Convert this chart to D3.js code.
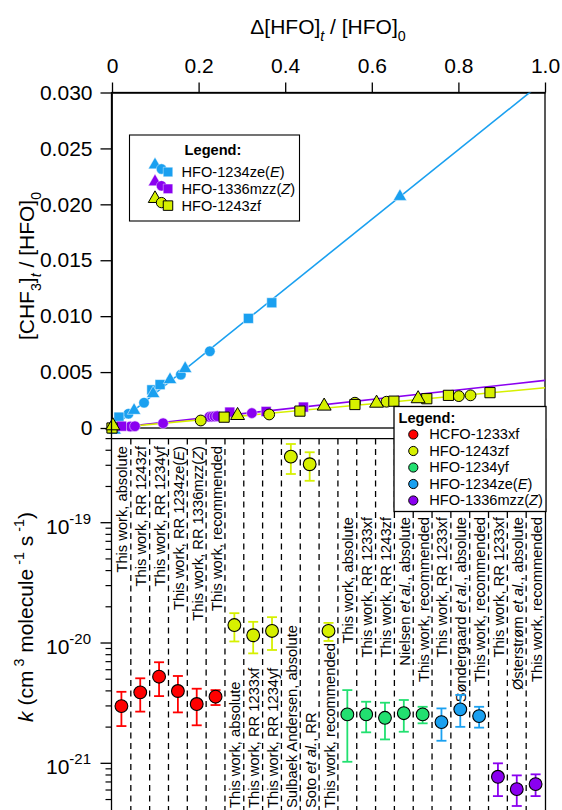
<!DOCTYPE html>
<html><head><meta charset="utf-8">
<script src="https://cdn.jsdelivr.net/npm/d3@7"></script>
<style>
body{margin:0;background:#fff}
svg{display:block}
text{font-family:"Liberation Sans",Arial,Helvetica,sans-serif;fill:#000}
</style>
</head><body>
<svg id="chart" width="562" height="810"></svg>
<script>
// ---------------- DATA ----------------
// Top panel: Δ[HFO]t/[HFO]0 vs [CHF3]t/[HFO]0
const topXTicks = [0, 0.2, 0.4, 0.6, 0.8, 1.0];
const topXTickLabels = ["0", "0.2", "0.4", "0.6", "0.8", "1.0"];
const topYTicks = [0, 0.005, 0.010, 0.015, 0.020, 0.025, 0.030];
const topYTickLabels = ["0", "0.005", "0.010", "0.015", "0.020", "0.025", "0.030"];

// HFO-1234ze(E)
const zeTriangles = [[0.006, -0.0002], [0.051, 0.00157], [0.095, 0.00307], [0.134, 0.00432], [0.169, 0.00531], [0.665, 0.0207]];
const zeCircles = [[0.038, 0.00127], [0.074, 0.00226], [0.159, 0.00477], [0.226, 0.00686]];
const zeSquares = [[0.016, 0.00097], [0.092, 0.00341], [0.111, 0.00388], [0.315, 0.0098], [0.369, 0.0112]];
// HFO-1336mzz(Z)
const mzzCircles = [[0.042, 0.00013], [0.053, 0.00016], [0.118, 0.00043], [0.225, 0.00100], [0.231, 0.00102], [0.237, 0.00104], [0.243, 0.00106], [0.323, 0.00133]];
const mzzSquares = [[0.022, 0.00016], [0.272, 0.00142], [0.356, 0.00148], [0.442, 0.00187]];
// HFO-1243zf
const zfTriangles = [[0.002, 0.0002], [0.290, 0.00112], [0.490, 0.00196], [0.611, 0.00222], [0.707, 0.00262]];
const zfCircles = [[0.205, 0.00067], [0.363, 0.00121], [0.561, 0.00226], [0.634, 0.00235], [0.801, 0.00285], [0.828, 0.00292]];
const zfSquares = [[0.0, 0.0], [0.259, 0.00097], [0.434, 0.00151], [0.561, 0.00210], [0.651, 0.0024], [0.727, 0.00262], [0.777, 0.00292], [0.873, 0.00316]];
// fitted slopes (ze, mzz, zf)
const fitSlopes = [0.0311, 0.00426, 0.0036];
const topLegendLabels = ["HFO-1234ze(<i>E</i>)", "HFO-1336mzz(<i>Z</i>)", "HFO-1243zf"];

// Bottom panel: rate coefficients k
const compounds = ["HCFO-1233xf", "HFO-1243zf", "HFO-1234yf", "HFO-1234ze(<i>E</i>)", "HFO-1336mzz(<i>Z</i>)"];
const kLabels = [
  "This work, absolute", "This work, RR 1243zf", "This work, RR 1234yf", "This work, RR 1234ze(<i>E</i>)", "This work, RR 1336mzz(<i>Z</i>)", "This work, recommended",
  "This work, absolute", "This work, RR 1233xf", "This work, RR 1234yf", "Sulbaek Andersen, absolute", "Soto <i>et al.</i>, RR", "This work, recommended",
  "This work, absolute", "This work, RR 1233xf", "This work, RR 1243zf", "Nielsen <i>et al.</i>, absolute", "This work, recommended",
  "This work, RR 1233xf", "Søndergaard <i>et al.</i>, absolute", "This work, recommended",
  "This work, RR 1233xf", "Østerstrøm <i>et al.</i>, absolute", "This work, recommended"
];
const kCompound = [0,0,0,0,0,0, 1,1,1,1,1,1, 2,2,2,2,2, 3,3,3, 4,4,4];
const kValues = [2.99e-21, 3.89e-21, 5.25e-21, 3.99e-21, 3.11e-21, 3.58e-21,
  1.41e-20, 1.16e-20, 1.26e-20, 3.54e-19, 3.06e-19, 1.26e-20,
  2.55e-21, 2.55e-21, 2.39e-21, 2.61e-21, 2.55e-21,
  2.20e-21, 2.81e-21, 2.47e-21,
  7.73e-22, 6.10e-22, 6.72e-22];
const kUpper = [3.93e-21, 5.09e-21, 6.92e-21, 5.32e-21, 4.17e-21, 4.06e-21,
  1.77e-20, 1.50e-20, 1.64e-20, 4.51e-19, 3.85e-19, 1.47e-20,
  4.06e-21, 3.25e-21, 3.19e-21, 3.36e-21, 2.95e-21,
  2.86e-21, 3.70e-21, 2.95e-21,
  1.00e-21, 7.94e-22, 8.10e-22];
const kLower = [2.04e-21, 2.69e-21, 3.62e-21, 2.65e-21, 2.07e-21, 3.05e-21,
  1.03e-20, 8.20e-21, 8.75e-21, 2.54e-19, 2.23e-19, 1.04e-20,
  1.03e-21, 1.81e-21, 1.58e-21, 1.83e-21, 2.15e-21,
  1.54e-21, 2.01e-21, 1.98e-21,
  5.34e-22, 4.42e-22, 5.34e-22];
const kMajorTicks = [1e-21, 1e-20, 1e-19];
const kMajorExponents = ["-21", "-20", "-19"];

// ---------------- STYLE ----------------
const compoundColors = ["#ff0000", "#d6f000", "#22e070", "#1aa0f0", "#8a00f0"];
const FONT = 21, LABEL_FONT = 14.7, LEG_FONT = 14.6;

// ---------------- HELPERS ----------------
function rich(sel, str, size) {
  let off = 0;
  const re = /<(i|sub|sup|subi)>(.*?)<\/\1>|([^<]+)/g;
  for (const m of str.matchAll(re)) {
    let t, tag = null;
    if (m[3] !== undefined) t = m[3]; else { tag = m[1]; t = m[2]; }
    let shift = 0, fs = size, italic = false;
    if (tag === "i") italic = true;
    if (tag === "sub" || tag === "subi") { shift = size * 0.32; fs = size * 0.68; italic = tag === "subi"; }
    if (tag === "sup") { shift = -size * 0.42; fs = size * 0.68; }
    const ts = sel.append("tspan").text(t).attr("font-size", fs);
    if (shift - off !== 0) ts.attr("dy", shift - off);
    if (italic) ts.attr("font-style", "italic");
    off = shift;
  }
}

const svg = d3.select("#chart");

// ---------------- TOP PANEL ----------------
const xT = d3.scaleLinear().domain([0, 1]).range([112, 545]);
const yT = d3.scaleLinear().domain([0, 0.030]).range([428, 92.5]);

svg.append("defs").append("clipPath").attr("id", "clipTop")
  .append("rect").attr("x", xT(0)).attr("y", yT(0.030)).attr("width", xT(1) - xT(0)).attr("height", yT(0) - yT(0.030));

const gTop = svg.append("g");
gTop.append("rect").attr("x", xT(0)).attr("y", yT(0.030)).attr("width", xT(1) - xT(0)).attr("height", yT(0) - yT(0.030))
  .attr("fill", "none").attr("stroke", "#000").attr("stroke-width", 1.3);

const axTop = gTop.append("g").attr("transform", `translate(0,${yT(0.030)})`)
  .call(d3.axisTop(xT).tickValues(topXTicks).tickFormat((d, i) => topXTickLabels[i]).tickSize(10).tickSizeOuter(0).tickPadding(10));
const axLeftTop = gTop.append("g").attr("transform", `translate(${xT(0) - 0.5},0)`)
  .call(d3.axisLeft(yT).tickValues(topYTicks).tickFormat((d, i) => topYTickLabels[i]).tickSize(11).tickSizeOuter(0).tickPadding(8));
[axTop, axLeftTop].forEach(a => {
  a.selectAll("text").attr("font-size", FONT).attr("font-family", "Liberation Sans, Arial, sans-serif").attr("fill", "#000");
  a.selectAll("line,path").attr("stroke", "#000").attr("stroke-width", 1.3);
});

// fit lines
const lineColors = [compoundColors[3], compoundColors[4], compoundColors[1]];
const gLines = gTop.append("g").attr("clip-path", "url(#clipTop)");
fitSlopes.forEach((s, i) => {
  gLines.append("line").attr("x1", xT(0)).attr("y1", yT(0)).attr("x2", xT(1)).attr("y2", yT(s * 1))
    .attr("stroke", lineColors[i]).attr("stroke-width", 1.6);
});

function drawMarkers(g, data, type, size, fill, stroke, sw) {
  const sym = d3.symbol().type(type).size(size);
  g.selectAll(null).data(data).join("path")
    .attr("d", sym)
    .attr("transform", d => `translate(${xT(d[0])},${yT(d[1])})`)
    .attr("fill", fill).attr("stroke", stroke).attr("stroke-width", sw);
}
const gM = gTop.append("g");
const blue = compoundColors[3], purple = compoundColors[4], yellow = compoundColors[1];
drawMarkers(gM, zeCircles, d3.symbolCircle, 88, blue, "#fff", 0.5);
drawMarkers(gM, zeSquares, d3.symbolSquare, 100, blue, "#fff", 0.5);
drawMarkers(gM, zeTriangles, d3.symbolTriangle, 78, blue, "#fff", 0.5);
drawMarkers(gM, mzzCircles, d3.symbolCircle, 88, purple, "#e8d0ff", 0.6);
drawMarkers(gM, mzzSquares, d3.symbolSquare, 100, purple, "#fff", 0.5);
drawMarkers(gM, zfCircles, d3.symbolCircle, 92, yellow, "#000", 1);
drawMarkers(gM, zfSquares, d3.symbolSquare, 104, yellow, "#000", 1);
drawMarkers(gM, zfTriangles, d3.symbolTriangle, 84, yellow, "#000", 1);

// axis titles (top)
const tTitle = svg.append("text").attr("x", 328).attr("y", 34).attr("text-anchor", "middle").attr("font-size", FONT);
rich(tTitle, "Δ[HFO]<subi>t</subi> / [HFO]<sub>0</sub>", FONT);
const yTitle = svg.append("text").attr("transform", "translate(34,266) rotate(-90)").attr("text-anchor", "middle").attr("font-size", FONT);
rich(yTitle, "[CHF<sub>3</sub>]<subi>t</subi> / [HFO]<sub>0</sub>", FONT);

// top legend
const tl = svg.append("g");
tl.append("rect").attr("x", 129.5).attr("y", 135).attr("width", 170).attr("height", 86)
  .attr("fill", "#fff").attr("stroke", "#000").attr("stroke-width", 1.1);
tl.append("text").attr("x", 213).attr("y", 155).attr("text-anchor", "middle").attr("font-size", LEG_FONT).attr("font-weight", "bold").text("Legend:");
const tlColors = [blue, purple, yellow];
topLegendLabels.forEach((lab, i) => {
  const cy = 169 + i * 16.8;
  const st = i === 2 ? "#000" : "#fff", sw = i === 2 ? 1 : 0.4;
  const g = tl.append("g");
  g.append("path").attr("d", d3.symbol().type(d3.symbolTriangle).size(78)).attr("transform", `translate(155,${cy - 4})`).attr("fill", tlColors[i]).attr("stroke", st).attr("stroke-width", sw);
  g.append("path").attr("d", d3.symbol().type(d3.symbolCircle).size(84)).attr("transform", `translate(161.5,${cy})`).attr("fill", tlColors[i]).attr("stroke", st).attr("stroke-width", sw);
  g.append("path").attr("d", d3.symbol().type(d3.symbolSquare).size(90)).attr("transform", `translate(168,${cy + 3})`).attr("fill", tlColors[i]).attr("stroke", st).attr("stroke-width", sw);
  const t = tl.append("text").attr("x", 181.5).attr("y", cy + 8).attr("font-size", LEG_FONT);
  rich(t, lab, LEG_FONT);
});

// ---------------- BOTTOM PANEL ----------------
const xB = d3.scaleBand().domain(d3.range(kLabels.length)).range([112, 545]).padding(0);
const yB = d3.scaleLog().domain([4e-22, 5e-19]).range([811.2, 438.6]);
const gB = svg.append("g");
const bw = xB.bandwidth();

gB.selectAll(null).data(d3.range(1, kLabels.length)).join("line")
  .attr("x1", i => xB(i)).attr("x2", i => xB(i))
  .attr("y1", yB(5e-19)).attr("y2", 812)
  .attr("stroke", "#000").attr("stroke-width", 1.3).attr("stroke-dasharray", "6,4.5");

gB.append("line").attr("x1", 111.5).attr("x2", 545.5).attr("y1", yB(5e-19)).attr("y2", yB(5e-19)).attr("stroke", "#000").attr("stroke-width", 1.3);
gB.append("line").attr("x1", 545.5).attr("x2", 545.5).attr("y1", yB(5e-19)).attr("y2", 812).attr("stroke", "#000").attr("stroke-width", 1.3);
gB.append("line").attr("x1", 111.5).attr("x2", 111.5).attr("y1", 92).attr("y2", 812).attr("stroke", "#000").attr("stroke-width", 1.3);

const minorTicks = [];
[-22, -21, -20, -19].forEach(e => { for (let m = 2; m <= 9; m++) { const v = m * Math.pow(10, e); if (v >= 4e-22 && v <= 5e-19) minorTicks.push(v); } });
gB.selectAll(null).data(minorTicks).join("line")
  .attr("x1", 105.5).attr("x2", 111.5).attr("y1", d => yB(d)).attr("y2", d => yB(d)).attr("stroke", "#000").attr("stroke-width", 1.2);
gB.selectAll(null).data(kMajorTicks).join("line")
  .attr("x1", 100.5).attr("x2", 111.5).attr("y1", d => yB(d)).attr("y2", d => yB(d)).attr("stroke", "#000").attr("stroke-width", 1.3);
kMajorTicks.forEach((v, i) => {
  const t = gB.append("text").attr("x", 91).attr("y", yB(v) + 11).attr("text-anchor", "end").attr("font-size", FONT);
  t.append("tspan").text("10");
  t.append("tspan").text(kMajorExponents[i]).attr("font-size", 15).attr("dy", -10);
});

kLabels.forEach((lab, i) => {
  const c = kCompound[i];
  const cx = xB(i) + bw / 2 + 6;
  let y, anchor;
  if (c === 0) { y = 446; anchor = "end"; }
  else if (c === 1) { y = 808; anchor = "start"; }
  else { y = 517; anchor = "end"; }
  const t = gB.append("text").attr("transform", `translate(${cx},${y}) rotate(-90)`)
    .attr("text-anchor", anchor).attr("font-size", LABEL_FONT);
  rich(t, lab, LABEL_FONT);
});

const gP = gB.append("g");
kValues.forEach((v, i) => {
  const cx = xB(i) + bw / 2;
  const col = compoundColors[kCompound[i]];
  gP.append("line").attr("x1", cx).attr("x2", cx).attr("y1", yB(kLower[i])).attr("y2", yB(kUpper[i])).attr("stroke", col).attr("stroke-width", 1.8);
  [kLower[i], kUpper[i]].forEach(e => gP.append("line").attr("x1", cx - 5).attr("x2", cx + 5).attr("y1", yB(e)).attr("y2", yB(e)).attr("stroke", col).attr("stroke-width", 1.8));
  gP.append("circle").attr("cx", cx).attr("cy", yB(v)).attr("r", 6.4).attr("fill", col).attr("stroke", "#000").attr("stroke-width", 1.1);
});

const kTitle = svg.append("text").attr("transform", "translate(33,617) rotate(-90)").attr("text-anchor", "middle").attr("font-size", FONT);
rich(kTitle, "<i>k</i> (cm<sup> 3</sup> molecule<sup> -1</sup> s<sup> -1</sup>)", FONT);

const bl = svg.append("g");
bl.append("rect").attr("x", 394).attr("y", 406.5).attr("width", 152).attr("height", 105)
  .attr("fill", "#fff").attr("stroke", "#000").attr("stroke-width", 1.3);
bl.append("text").attr("x", 398.5).attr("y", 422.5).attr("font-size", LEG_FONT).attr("font-weight", "bold").text("Legend:");
compounds.forEach((name, i) => {
  const by = 439.3 + i * 16.5;
  bl.append("circle").attr("cx", 413.3).attr("cy", by - 4.8).attr("r", 4.6).attr("fill", compoundColors[i]).attr("stroke", "#000").attr("stroke-width", 1);
  const t = bl.append("text").attr("x", 429.3).attr("y", by).attr("font-size", LEG_FONT);
  rich(t, name, LEG_FONT);
});
</script>
</body></html>
